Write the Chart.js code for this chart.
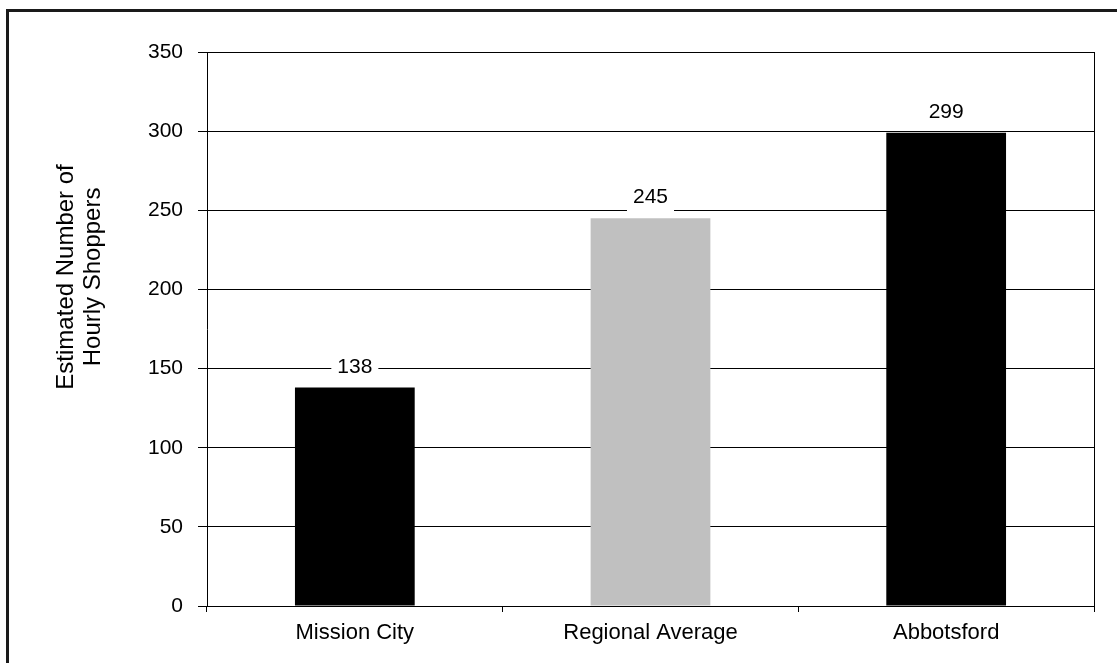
<!DOCTYPE html>
<html>
<head>
<meta charset="utf-8">
<script src="https://cdn.jsdelivr.net/npm/chart.js@4.4.1/dist/chart.umd.min.js"></script>
<style>
  html, body { margin: 0; padding: 0; background: #fff; }
  #wrap { position: relative; width: 1117px; height: 663px; overflow: hidden; }
  #frame { position: absolute; left: 6px; top: 9px; right: -10px; bottom: -10px;
           border-left: 3px solid #1a1a1a; border-top: 3px solid #1a1a1a; pointer-events: none; }
  canvas { position: absolute; left: 0; top: 0; }
</style>
</head>
<body>
<div id="wrap">
  <canvas id="shoppers" width="1117" height="663"></canvas>
  <div id="frame"></div>
</div>
<script>
var categories = ['Mission City', 'Regional Average', 'Abbotsford'];
var shoppers = [138, 245, 299];
var barColors = ['#000000', '#c0c0c0', '#000000'];
var yTitle = ['Estimated Number of', 'Hourly Shoppers'];
var yMax = 350;
var yStep = 50;

var fontFamily = '"Liberation Sans", Arial, sans-serif';

// value labels with a white box over the gridlines, plus the right border and axis title
var extras = {
    id: 'extras',
    afterDatasetsDraw(chart) {
        let ctx = chart.ctx;
        let area = chart.chartArea;
        ctx.save();

        // right border of the plot
        ctx.strokeStyle = '#000';
        ctx.lineWidth = 1;
        ctx.beginPath();
        ctx.moveTo(Math.round(area.right) + 0.5, area.top);
        ctx.lineTo(Math.round(area.right) + 0.5, area.bottom);
        ctx.stroke();

        ctx.font = '21px ' + fontFamily;
        ctx.textAlign = 'center';
        ctx.textBaseline = 'alphabetic';
        chart.getDatasetMeta(0).data.forEach((bar, i) => {
            let text = String(shoppers[i]);
            let w = ctx.measureText(text).width + 12;
            let base = bar.y - 15;
            ctx.fillStyle = '#fff';
            ctx.fillRect(bar.x - w / 2, base - 20, w, 29);
            ctx.fillStyle = '#000';
            ctx.fillText(text, bar.x, base);
        });

        // y axis title, two lines, rotated
        ctx.font = '24px ' + fontFamily;
        ctx.textBaseline = 'middle';
        let cy = area.top + area.height * 0.406;
        [[yTitle[0], area.left - 141], [yTitle[1], area.left - 114]].forEach(([t, x]) => {
            ctx.save();
            ctx.translate(x, cy);
            ctx.rotate(-Math.PI / 2);
            ctx.fillText(t, 0, 0);
            ctx.restore();
        });
        ctx.restore();
    }
};

new Chart(document.getElementById('shoppers').getContext('2d'), {
    type: 'bar',
    data: {
        labels: categories,
        datasets: [{
            data: shoppers,
            backgroundColor: barColors,
            borderWidth: 0,
            categoryPercentage: 1,
            barPercentage: 0.405
        }]
    },
    options: {
        responsive: false,
        animation: false,
        devicePixelRatio: 1,
        layout: { padding: { left: 0, top: 52, right: 23, bottom: 0 } },
        plugins: { legend: { display: false }, tooltip: { enabled: false } },
        scales: {
            x: {
                afterFit: (scale) => { scale.height = 57; },
                grid: { display: true, drawOnChartArea: false, offset: true, tickLength: 6, color: '#000' },
                border: { display: true, color: '#000' },
                ticks: { color: '#000', padding: 8, font: { size: 22, family: fontFamily } }
            },
            y: {
                min: 0,
                max: yMax,
                afterFit: (scale) => { scale.width = 207; },
                grid: { color: '#000', tickLength: 9 },
                border: { display: true, color: '#000' },
                ticks: { stepSize: yStep, color: '#000', padding: 15, font: { size: 21, family: fontFamily } }
            }
        }
    },
    plugins: [extras]
});
</script>
</body>
</html>
